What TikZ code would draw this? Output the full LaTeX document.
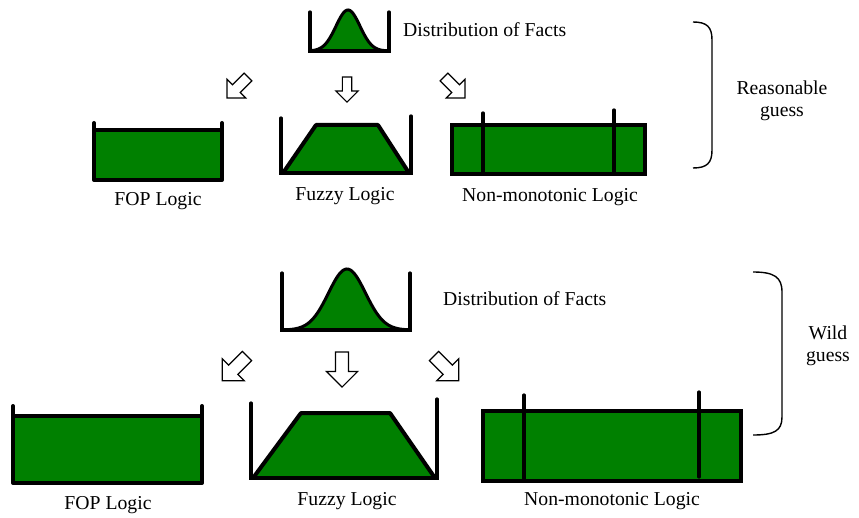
\documentclass[tikz,border=0pt]{standalone}
\usepackage{fontspec}
\setmainfont{Liberation Serif}
\definecolor{boxgreen}{RGB}{0,128,0}
\begin{document}
\begin{tikzpicture}[x=1pt,y=-1pt,
  thickline/.style={line width=4pt,line cap=round,line join=round},
  postline/.style={line width=3.2pt,line cap=round},
  braceline/.style={line width=1.4pt},
  lbl/.style={font=\fontsize{19.7}{22}\selectfont,inner sep=0pt,align=center},
  arrowline/.style={draw=black,fill=white,line width=1.2pt,line join=miter},
  blockarrow/.pic={\path[arrowline] (-5,0) -- (5,0) -- (5,15) -- (12,15) -- (0,27) -- (-12,15) -- (-5,15) -- cycle;}
]
\useasboundingbox (0,0) rectangle (859,518);

% ---------------- top: distribution ----------------
\fill[boxgreen] (310,51) -- plot[domain=310:389,samples=80] (\x,{51-41*exp(-((\x-348)/12)^2/2)}) -- (389,51) -- cycle;
\draw[line width=3pt] plot[domain=312:387,samples=80] (\x,{51-41*exp(-((\x-348)/12)^2/2)});
\draw[postline] (310,12) -- (310,51) -- (389,51) -- (389,12);
\node[lbl,anchor=west] (dist1) at (403,30) {Distribution of Facts};

% arrows top
\pic[rotate=-45,scale=1.1] at (248,77) {blockarrow};
\pic[scale=0.93] at (347,77) {blockarrow};
\pic[rotate=45,scale=1.1] at (444,77) {blockarrow};

% FOP top
\fill[boxgreen] (94,130) rectangle (222,180);
\draw[thickline] (94,123) -- (94,180) -- (222,180) -- (222,123);
\draw[line width=3.5pt] (94,130) -- (222,130);
\node[lbl] (fop1) at (158,201) {FOP Logic};

% Fuzzy top
\fill[boxgreen] (283,173) -- (316,125) -- (378,125) -- (409,173) -- cycle;
\draw[thickline] (283,173) -- (316,125) -- (378,125) -- (409,173);
\draw[postline] (281,118) -- (281,173) -- (411,173) -- (411,116);
\node[lbl] (fuzzy1) at (345,196) {Fuzzy Logic};

% Non-monotonic top
\draw[thickline,fill=boxgreen,line cap=butt,line join=miter] (452,125) rectangle (645,174);
\draw[postline] (483,113) -- (483,174);
\draw[postline] (614,110) -- (614,172);
\node[lbl] (nm1) at (550,197) {Non-monotonic Logic};

% brace top
\draw[braceline] (693,22) .. controls (707,22) and (712,27) .. (712,40) -- (712,150) .. controls (712,163) and (707,168) .. (693,168);
\node[lbl] (reas) at (782,101) {Reasonable\\guess};

% ---------------- bottom: distribution ----------------
\fill[boxgreen] (282,330) -- plot[domain=282:410,samples=100] (\x,{330-61*exp(-((\x-347)/18.5)^2/2)}) -- (410,330) -- cycle;
\draw[line width=3pt] plot[domain=284:408,samples=100] (\x,{330-61*exp(-((\x-347)/18.5)^2/2)});
\draw[postline] (282,273) -- (282,330) -- (410,330) -- (410,273);
\node[lbl,anchor=west] (dist2) at (443,299) {Distribution of Facts};

% arrows bottom
\pic[rotate=-45,scale=1.3] at (247,356) {blockarrow};
\pic[scale=1.3] at (342,352) {blockarrow};
\pic[rotate=45,scale=1.3] at (434,356) {blockarrow};

% FOP bottom
\fill[boxgreen] (13,416) rectangle (202,483);
\draw[thickline] (13,406) -- (13,483) -- (202,483) -- (202,406);
\draw[line width=3.5pt] (13,416) -- (202,416);
\node[lbl] (fop2) at (108,505) {FOP Logic};

% Fuzzy bottom
\fill[boxgreen] (253,478) -- (301,413) -- (390,413) -- (435,478) -- cycle;
\draw[thickline] (253,478) -- (301,413) -- (390,413) -- (435,478);
\draw[postline] (251,403) -- (251,478) -- (437,478) -- (437,399);
\node[lbl] (fuzzy2) at (347,501) {Fuzzy Logic};

% Non-monotonic bottom
\draw[thickline,fill=boxgreen,line cap=butt,line join=miter] (483,411) rectangle (741,481);
\draw[postline] (524,395) -- (524,480);
\draw[postline] (699,392) -- (699,477);
\node[lbl] (nm2) at (612,501) {Non-monotonic Logic};

% brace bottom
\draw[braceline] (753,272) .. controls (774,272) and (782,277) .. (782,292) -- (782,417) .. controls (782,431) and (774,435) .. (753,435);
\node[lbl] (wild) at (828,346) {Wild\\guess};
\end{tikzpicture}
\end{document}
